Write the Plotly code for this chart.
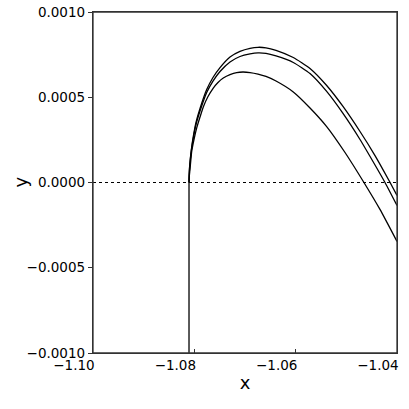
import plotly.graph_objects as go

# three branches (x, y)
x_top = [-1.08105, -1.08100, -1.08086, -1.08056, -1.08020, -1.07967, -1.07888, -1.07756,
         -1.07632, -1.07493, -1.07296, -1.07099, -1.06901, -1.06743, -1.06586, -1.06388,
         -1.06047, -1.05717, -1.05388, -1.05066, -1.04730, -1.04434, -1.04158, -1.04000]
y_top = [0.0, 0.0000587, 0.000119, 0.000199, 0.000270, 0.000352, 0.000434, 0.000545,
         0.000616, 0.000674, 0.000736, 0.000769, 0.000787, 0.000793, 0.000790, 0.000775,
         0.000733, 0.000669, 0.000569, 0.000446, 0.000299, 0.000158, 0.0000117, -0.0000762]

x_mid = [-1.08105, -1.08100, -1.08086, -1.08056, -1.08020, -1.07967, -1.07888, -1.07756,
         -1.07632, -1.07493, -1.07296, -1.07099, -1.06901, -1.06743, -1.06586, -1.06388,
         -1.06047, -1.05717, -1.05388, -1.05066, -1.04730, -1.04474, -1.04237, -1.04000]
y_mid = [0.0, 0.0000557, 0.000114, 0.000194, 0.000261, 0.000340, 0.000419, 0.000528,
         0.000595, 0.000651, 0.000707, 0.000739, 0.000754, 0.000760, 0.000757, 0.000742,
         0.000704, 0.000639, 0.000534, 0.000405, 0.000252, 0.000123, 0.0, -0.000135]

x_low = [-1.08105, -1.08100, -1.08086, -1.08052, -1.08007, -1.07953, -1.07888, -1.07823,
         -1.07730, -1.07626, -1.07533, -1.07428, -1.07296, -1.07164, -1.07039, -1.06901,
         -1.06743, -1.06586, -1.06388, -1.06047, -1.05717, -1.05388, -1.05026, -1.04665,
         -1.04336, -1.04000]
y_low = [0.0, 0.0000352, 0.0000762, 0.000182, 0.000252, 0.000320, 0.000384, 0.000443,
         0.000504, 0.000554, 0.000587, 0.000613, 0.000633, 0.000645, 0.000648, 0.000645,
         0.000636, 0.000622, 0.000595, 0.000531, 0.000437, 0.000328, 0.000176, 0.0000059,
         -0.000158, -0.000346]

# vertical branch below the root
x_vert = [-1.08105, -1.08105]
y_vert = [0.0, -0.0010]

x_ticks = [-1.10, -1.08, -1.06, -1.04]
y_ticks = [-0.0010, -0.0005, 0.0, 0.0005, 0.0010]

fig = go.Figure()
for xs, ys in [(x_top, y_top), (x_mid, y_mid), (x_low, y_low), (x_vert, y_vert)]:
    fig.add_trace(go.Scatter(x=xs, y=ys, mode="lines",
                             line=dict(color="black", width=1.3, shape="spline", smoothing=0.5),
                             showlegend=False, hoverinfo="skip"))

# dotted zero line
fig.add_trace(go.Scatter(x=[-1.10, -1.04], y=[0, 0], mode="lines",
                         line=dict(color="black", width=1, dash="dot"),
                         showlegend=False, hoverinfo="skip"))

# frame around the axes
fig.add_shape(type="rect", xref="paper", yref="paper", x0=0, x1=1, y0=0, y1=1,
              line=dict(color="#333", width=1.3), layer="above")

# y label, placed by hand (axis title would sit too far left)
fig.add_annotation(text="y", xref="paper", yref="paper", x=-0.24, y=0.5,
                   xanchor="center", yanchor="middle",
                   textangle=-90, showarrow=False, font=dict(size=18))

fig.update_layout(
    width=409, height=409,
    margin=dict(l=93, r=12, t=12, b=56),
    plot_bgcolor="white", paper_bgcolor="white",
    font=dict(family="DejaVu Sans", size=13.5, color="black"),
)
fig.update_xaxes(range=[-1.10, -1.04], tickvals=x_ticks,
                 ticktext=["\u2212%.2f" % abs(v) for v in x_ticks],
                 ticks="inside", ticklen=4, tickcolor="#333",
                 ticklabelshift=-19, automargin=False,
                 showline=True, linecolor="#333", linewidth=1.3, mirror=True,
                 showgrid=False, zeroline=False,
                 title=dict(text="x", font=dict(size=18), standoff=4))
fig.update_yaxes(range=[-0.0010, 0.0010], tickvals=y_ticks,
                 tickformat=".4f", automargin=False,
                 ticks="outside", ticklen=4, tickcolor="#333",
                 showline=True, linecolor="#333", linewidth=1.3, mirror=True,
                 showgrid=False, zeroline=False)

# page body has a default margin; drop it so the figure sits at the corner
fig.write_html("out.html", config={"displayModeBar": False},
               post_script="document.body.style.margin='0';")
